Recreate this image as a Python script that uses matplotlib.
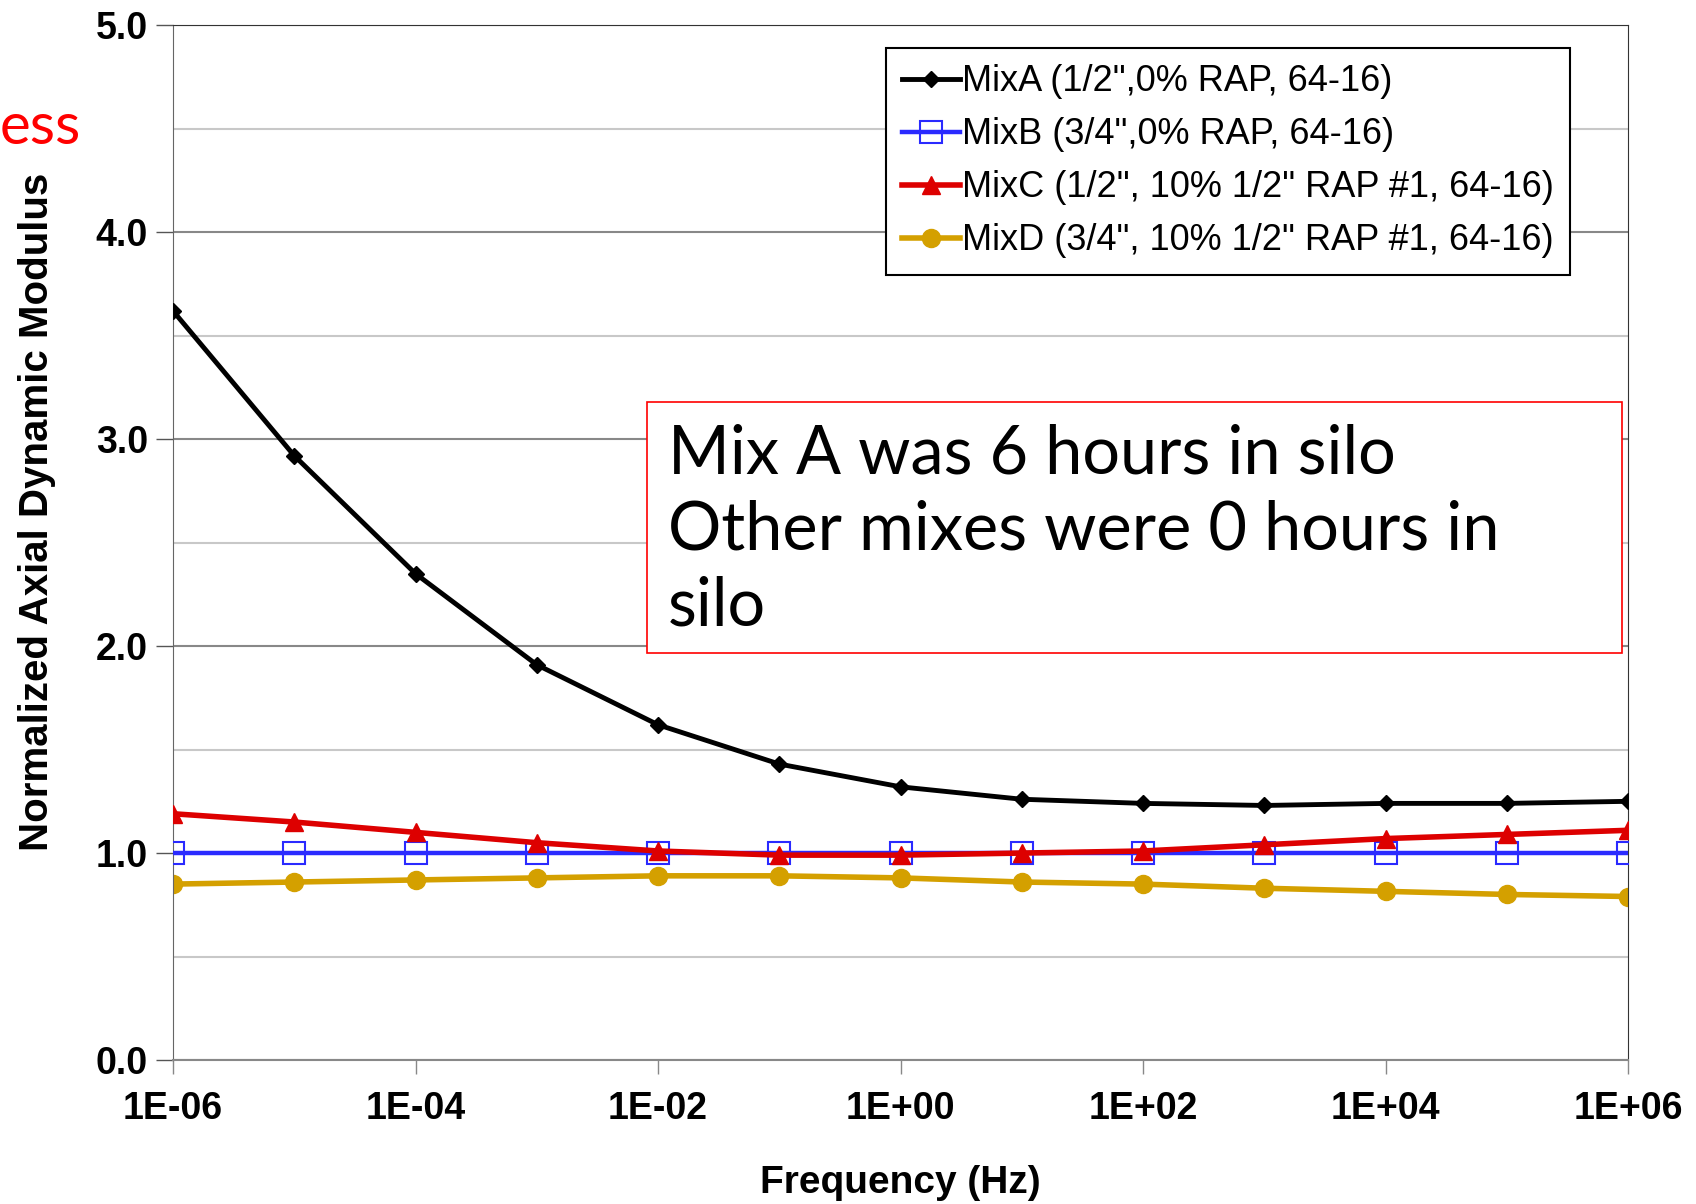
import numpy as np
import matplotlib
matplotlib.use("Agg")
import matplotlib.pyplot as plt
from matplotlib.ticker import FixedLocator, FuncFormatter
from matplotlib.patches import Rectangle

# frequency points (Hz), one per decade
freq = [1e-6, 1e-5, 1e-4, 1e-3, 1e-2, 1e-1, 1e0, 1e1, 1e2, 1e3, 1e4, 1e5, 1e6]

# values
mix_a = [3.62, 2.92, 2.35, 1.91, 1.62, 1.43, 1.32, 1.26, 1.24, 1.23, 1.24, 1.24, 1.25]
mix_b = [1.00, 1.00, 1.00, 1.00, 1.00, 1.00, 1.00, 1.00, 1.00, 1.00, 1.00, 1.00, 1.00]
mix_c = [1.19, 1.15, 1.10, 1.05, 1.01, 0.99, 0.99, 1.00, 1.01, 1.04, 1.07, 1.09, 1.11]
mix_d = [0.85, 0.86, 0.87, 0.88, 0.89, 0.89, 0.88, 0.86, 0.85, 0.83, 0.815, 0.80, 0.79]

labels = ['MixA (1/2",0% RAP, 64-16)',
          'MixB (3/4",0% RAP, 64-16)',
          'MixC (1/2", 10% 1/2" RAP #1, 64-16)',
          'MixD (3/4", 10% 1/2" RAP #1, 64-16)']

x_ticks = [1e-6, 1e-4, 1e-2, 1e0, 1e2, 1e4, 1e6]
x_ticklabels = ["1E-06", "1E-04", "1E-02", "1E+00", "1E+02", "1E+04", "1E+06"]
y_ticks = [0, 1, 2, 3, 4, 5]

note = "Mix A was 6 hours in silo\nOther mixes were 0 hours in\nsilo"

sans = ["Liberation Sans", "DejaVu Sans"]

fig = plt.figure(figsize=(16.96, 12.04), dpi=100)
ax = fig.add_axes([0.102, 0.1196, 0.858, 0.8594])

ax.plot(freq, mix_a, color="black", lw=3.5, marker="D", ms=8, label=labels[0], zorder=5)
ax.plot(freq, mix_b, color="#2a2aff", lw=3.2, marker="s", ms=16, mfc="none",
        mec="#2a2aff", mew=1.5, label=labels[1], zorder=3)
ax.plot(freq, mix_c, color="#dd0000", lw=4, marker="^", ms=13, label=labels[2], zorder=4)
ax.plot(freq, mix_d, color="#d4a000", lw=4, marker="o", ms=13, label=labels[3], zorder=2)

ax.set_xscale("log")
ax.set_xlim(1e-6, 1e6)
ax.set_ylim(0, 5)
ax.xaxis.set_major_locator(FixedLocator(x_ticks))
ax.xaxis.set_minor_locator(FixedLocator([]))
ax.set_xticklabels(x_ticklabels)
ax.yaxis.set_major_locator(FixedLocator(y_ticks))
ax.yaxis.set_minor_locator(FixedLocator(np.arange(0.5, 5, 1.0)))
ax.yaxis.set_major_formatter(FuncFormatter(lambda v, p: f"{v:.1f}"))

ax.grid(axis="y", which="major", color="#888888", lw=1.5)
ax.grid(axis="y", which="minor", color="#c8c8c8", lw=1.5)
ax.set_axisbelow(True)

for lab in ax.get_xticklabels() + ax.get_yticklabels():
    lab.set_fontfamily(sans)
    lab.set_fontweight("bold")
    lab.set_fontsize(27)
ax.tick_params(axis="x", length=10, width=1, color="#888888", pad=12)
ax.tick_params(axis="y", length=12, width=1, color="#555555", pad=6)
ax.tick_params(axis="y", which="minor", length=0)

ax.spines["left"].set_color("#666666")
ax.spines["bottom"].set_color("#888888")
ax.spines["bottom"].set_linewidth(1.5)
ax.spines["top"].set_color("#333333")
ax.spines["right"].set_color("#333333")

ax.set_xlabel("Frequency (Hz)", fontfamily=sans, fontweight="bold", fontsize=28, labelpad=28)
fig.text(0.022, 0.575, "Normalized Axial Dynamic Modulus", rotation=90, ha="center", va="center",
         fontfamily=sans, fontweight="bold", fontsize=29)

leg = ax.legend(loc="upper left", bbox_to_anchor=(0.49, 0.978), prop={"family": sans, "size": 26},
                frameon=True, fancybox=False, edgecolor="black", framealpha=1,
                handlelength=1.6, handletextpad=0.05, labelspacing=0.5, borderpad=0.45,
                borderaxespad=0)
leg.get_frame().set_linewidth(1.5)

# red note box
box = Rectangle((647 / 1696, 1 - 653 / 1204), (1622 - 647) / 1696, (653 - 402) / 1204,
                transform=fig.transFigure, fill=True, facecolor="white", edgecolor="red", lw=1.2,
                zorder=10)
fig.patches.append(box)
fig.text(668 / 1696, 1 - 424 / 1204, note, ha="left", va="top", fontsize=48,
         fontfamily=["Lato", "DejaVu Sans"], fontweight="normal", linespacing=1.27, zorder=11)

fig.text(0.0, 1 - 128 / 1204, "ess", ha="left", va="center", color="red", fontsize=42,
         fontfamily=["Lato", "DejaVu Sans"], fontweight="normal")

fig.savefig("out.png", dpi=100, facecolor="white")
